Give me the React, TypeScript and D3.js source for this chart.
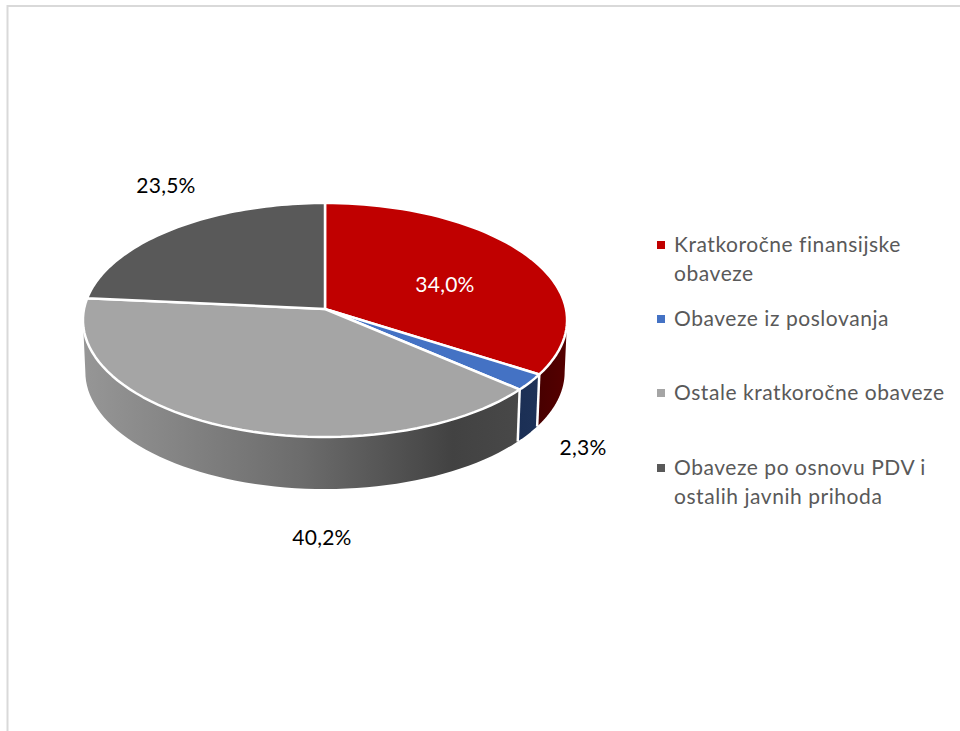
import React from "react";
import * as d3 from "d3";

const categories = ["Kratkoročne finansijske obaveze", "Obaveze iz poslovanja", "Ostale kratkoročne obaveze", "Obaveze po osnovu PDV i ostalih javnih prihoda"];
const values = [34.0, 2.3, 40.2, 23.5];
const valueLabels = ["34,0%", "2,3%", "40,2%", "23,5%"];
const topColors = ["#c00000", "#4472c4", "#a5a5a5", "#595959"];
const legendLines = [["Kratkoročne finansijske", "obaveze"], ["Obaveze iz poslovanja"], ["Ostale kratkoročne obaveze"], ["Obaveze po osnovu PDV i", "ostalih javnih prihoda"]];
const legendBaselines = [[252, 281], [326], [400], [475, 504]];
const labelPos = [[445, 292, "#ffffff"], [583, 455, "#000000"], [322, 545, "#000000"], [166, 193, "#000000"]] as const;

const cx = 325, cy = 309, rx = 241, ry = 116, persp = 0.094, depth = 52, floorScale = 0.99;
const FONT = "Lato, Carlito, sans-serif";

const project = (a: number, dy = 0, sx = 1) => {
  const u = Math.sin(a), v = -Math.cos(a), w = 1 - persp * v;
  return [cx + (sx * rx * u) / w, cy + (ry * v) / w + dy] as [number, number];
};
const line = d3.line();
const sample = (a0: number, a1: number, dy = 0, sx = 1) =>
  d3.range(0, 61).map((i) => project(a0 + ((a1 - a0) * i) / 60, dy, sx));

export default function App() {
  const arcs = d3.pie<number>().sort(null)(values);
  const frontStart = Math.PI / 2 + Math.asin(persp);
  const frontEnd = (3 * Math.PI) / 2 - Math.asin(persp);
  return (
    <svg width={960} height={731} style={{ position: "absolute", left: 0, top: 0, display: "block", background: "#fff" }}>
      <defs>
        <linearGradient id="w0" gradientUnits="userSpaceOnUse" x1={520} x2={568} y1={0} y2={0}>
          <stop offset="0" stopColor="#3f0000" />
          <stop offset="1" stopColor="#560000" />
        </linearGradient>
        <linearGradient id="w1" gradientUnits="userSpaceOnUse" x1={517} x2={540} y1={0} y2={0}>
          <stop offset="0" stopColor="#1b2f55" />
          <stop offset="1" stopColor="#1e3258" />
        </linearGradient>
        <linearGradient id="w2" gradientUnits="userSpaceOnUse" x1={84} x2={518} y1={0} y2={0}>
          <stop offset="0" stopColor="#969696" />
          <stop offset="0.5" stopColor="#6c6c6c" />
          <stop offset="0.85" stopColor="#424242" />
          <stop offset="1" stopColor="#484848" />
        </linearGradient>
      </defs>
      <path d="M7.5,731V6H960" fill="none" stroke="#d9d9d9" strokeWidth={2} />
      {arcs.map((d, i) => {
        const a0 = Math.max(d.startAngle, frontStart), a1 = Math.min(d.endAngle, frontEnd);
        if (a1 <= a0) return null;
        const pts = [...sample(a0, a1), ...sample(a0, a1, depth, floorScale).reverse()];
        return <path key={"w" + i} d={line(pts) + "Z"} fill={`url(#w${i})`} />;
      })}
      {arcs.slice(1, 3).map((d, i) => {
        const p = project(d.startAngle), q = project(d.startAngle, depth, floorScale);
        return <path key={"s" + i} d={line([p, q]) as string} stroke="#fff" strokeWidth={2.5} />;
      })}
      {arcs.map((d, i) => (
        <path key={"t" + i} d={line([[cx, cy], ...sample(d.startAngle, d.endAngle)]) + "Z"} fill={topColors[i]} stroke="#fff" strokeWidth={2.5} strokeLinejoin="round" />
      ))}
      {valueLabels.map((t, i) => (
        <text key={t} x={labelPos[i][0]} y={labelPos[i][1]} fill={labelPos[i][2]} textAnchor="middle" fontFamily={FONT} fontSize={21} letterSpacing={0.25}>{t}</text>
      ))}
      {categories.map((c, i) => (
        <g key={c}>
          <rect x={657} y={legendBaselines[i][0] - 11} width={8} height={8} fill={topColors[i]} />
          {legendLines[i].map((l, j) => (
            <text key={l} x={674} y={legendBaselines[i][j]} fill="#595959" fontFamily={FONT} fontSize={21} letterSpacing={0.55}>{l}</text>
          ))}
        </g>
      ))}
    </svg>
  );
}
